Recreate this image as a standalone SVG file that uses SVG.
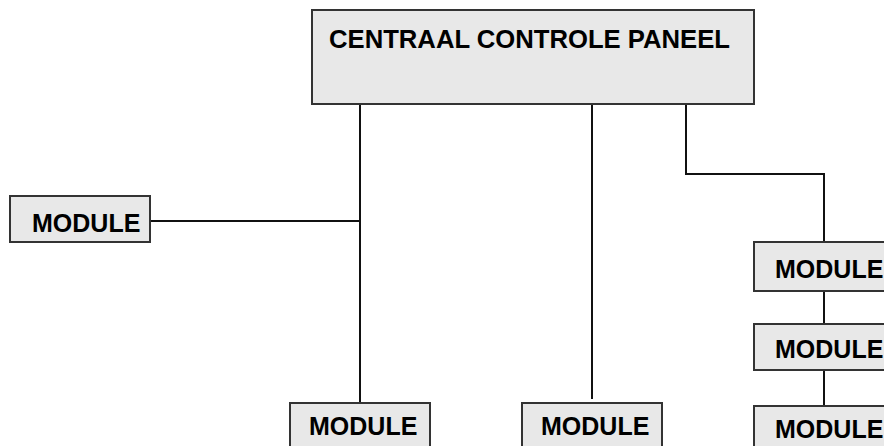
<svg xmlns="http://www.w3.org/2000/svg" width="884" height="446" viewBox="0 0 884 446">
<style>
.box{fill:#e8e8e8;stroke:#333;stroke-width:2}
.lbl{font-family:"Liberation Sans",Arial,sans-serif;font-weight:bold;font-size:25px;fill:#000}
.ln{fill:none;stroke:#111;stroke-width:2}
</style>
<rect width="884" height="446" fill="#fff"/>
<g id="connectors">
<path class="ln" d="M360,104 V403"/>
<path class="ln" d="M150,221 H360"/>
<path class="ln" d="M592,104 V399"/>
<path class="ln" d="M686,104 V174 H824 V242"/>
<path class="ln" d="M824,291 V324"/>
<path class="ln" d="M824,370 V406"/>
</g>
<g id="panel">
<rect class="box" x="312" y="10" width="442" height="94"/>
<text class="lbl" x="329" y="48" textLength="401" lengthAdjust="spacingAndGlyphs">CENTRAAL CONTROLE PANEEL</text>
</g>
<g id="module-left">
<rect class="box" x="10" y="196" width="140" height="46"/>
<text class="lbl" x="32" y="232">MODULE</text>
</g>
<g id="module-bottom1">
<rect class="box" x="290" y="403" width="140" height="50"/>
<text class="lbl" x="309" y="435">MODULE</text>
</g>
<g id="module-bottom2">
<rect class="box" x="522" y="403" width="140" height="50"/>
<text class="lbl" x="541" y="435">MODULE</text>
</g>
<g id="module-right1">
<rect class="box" x="754" y="242" width="140" height="49"/>
<text class="lbl" x="775" y="278">MODULE</text>
</g>
<g id="module-right2">
<rect class="box" x="754" y="324" width="140" height="46"/>
<text class="lbl" x="775" y="358">MODULE</text>
</g>
<g id="module-right3">
<rect class="box" x="754" y="406" width="140" height="50"/>
<text class="lbl" x="775" y="438">MODULE</text>
</g>
</svg>
